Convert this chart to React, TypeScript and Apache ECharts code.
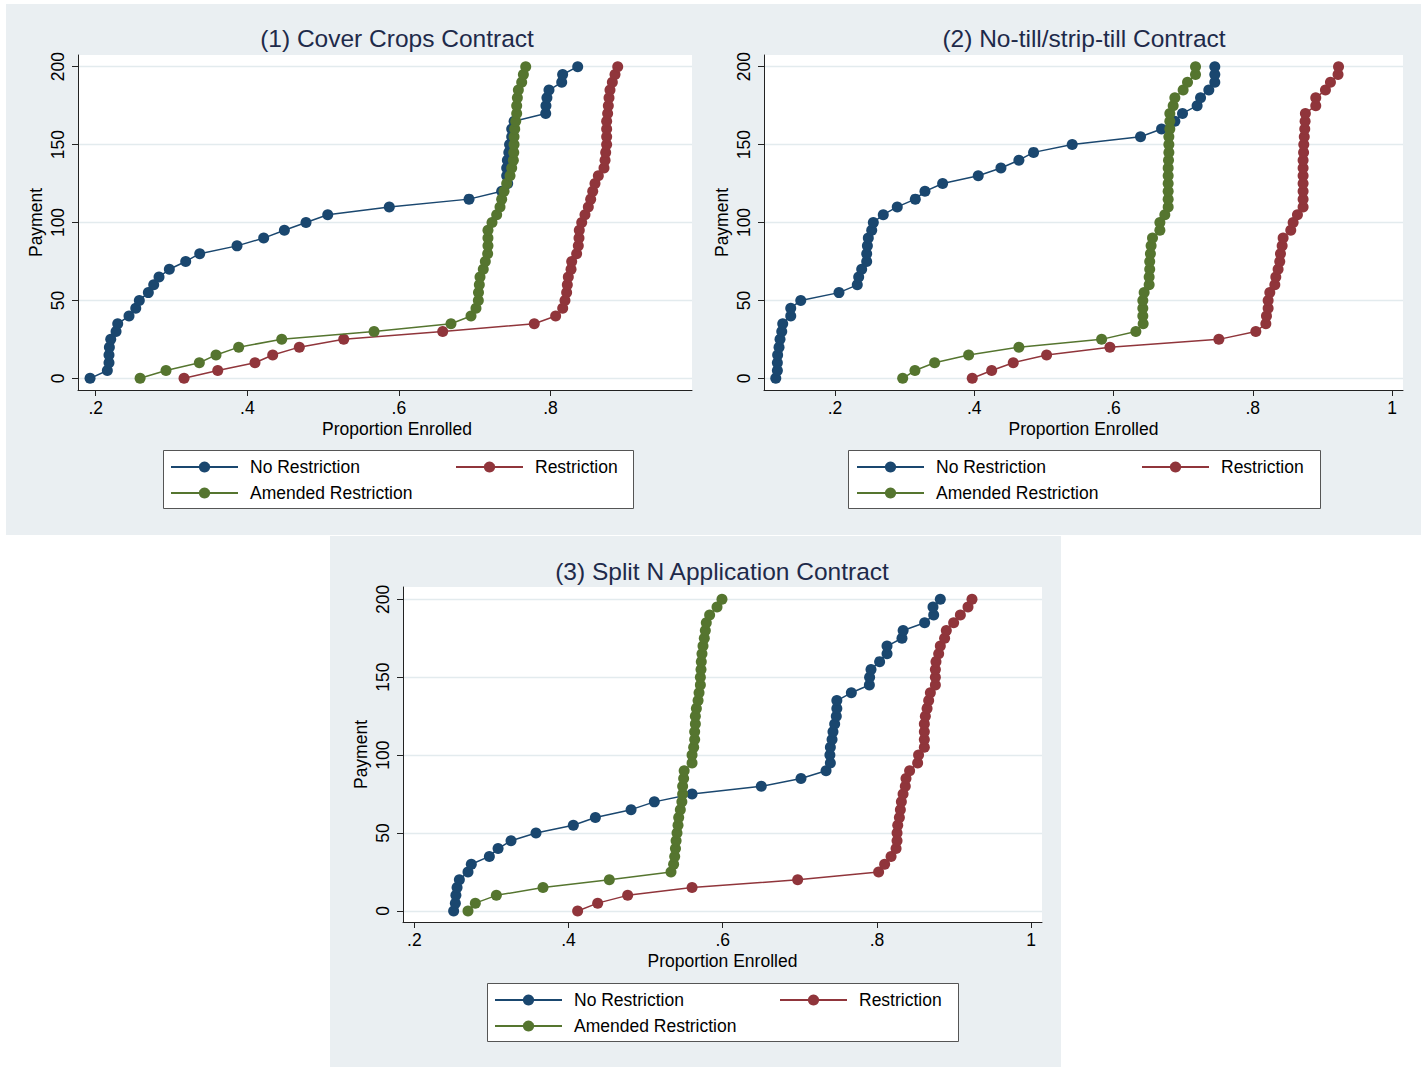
import React, { useEffect, useRef } from "react";
import * as echarts from "echarts";

// Payment levels (y values shared by every series)
const payments = [0, 5, 10, 15, 20, 25, 30, 35, 40, 45, 50, 55, 60, 65, 70, 75, 80, 85, 90, 95, 100,
  105, 110, 115, 120, 125, 130, 135, 140, 145, 150, 155, 160, 165, 170, 175, 180, 185, 190, 195, 200];

const seriesNames = ["No Restriction", "Restriction", "Amended Restriction"];
const panelTitles = ["(1) Cover Crops Contract", "(2) No-till/strip-till Contract", "(3) Split N Application Contract"];
const xAxisTitle = "Proportion Enrolled";
const yAxisTitle = "Payment";

// Panel 1: Cover Crops (proportion enrolled at each payment level)
const p1NoRestriction = [0.1925, 0.2153, 0.2175, 0.2175, 0.218, 0.2198, 0.2268, 0.229, 0.2439, 0.2528, 0.2575,
  0.2694, 0.2765, 0.2835, 0.2971, 0.3187, 0.3372, 0.3864, 0.4216, 0.4489, 0.4774, 0.5061, 0.5873, 0.6925,
  0.7356, 0.7435, 0.7422, 0.7422, 0.7431, 0.745, 0.746, 0.7488, 0.7488, 0.752, 0.7937, 0.794, 0.7953, 0.798,
  0.8148, 0.816, 0.8359];
const p1Restriction = [0.3165, 0.361, 0.4101, 0.4335, 0.4686, 0.5272, 0.6578, 0.7786, 0.8068, 0.8161, 0.8191,
  0.8213, 0.8222, 0.8235, 0.8271, 0.828, 0.8345, 0.8367, 0.8376, 0.838, 0.8412, 0.8455, 0.8499, 0.853, 0.8557,
  0.8587, 0.8631, 0.8706, 0.872, 0.8728, 0.8741, 0.8741, 0.8741, 0.8741, 0.8754, 0.8763, 0.8772, 0.8785,
  0.8816, 0.8851, 0.8887];
const p1Amended = [0.2585, 0.2927, 0.3367, 0.3587, 0.3886, 0.4454, 0.5672, 0.6687, 0.6951, 0.7017, 0.7048,
  0.705, 0.7061, 0.707, 0.7113, 0.714, 0.7171, 0.7175, 0.7175, 0.7175, 0.7228, 0.729, 0.7334, 0.7356, 0.7387,
  0.7422, 0.7466, 0.7488, 0.751, 0.7515, 0.7519, 0.7519, 0.7528, 0.7541, 0.7554, 0.7554, 0.7563, 0.7576,
  0.762, 0.7642, 0.7673];

// Panel 2: No-till/strip-till
const p2NoRestriction = [0.1149, 0.1172, 0.1172, 0.1176, 0.1196, 0.121, 0.1235, 0.1249, 0.1364, 0.1364, 0.1508,
  0.2057, 0.232, 0.234, 0.2383, 0.2455, 0.2455, 0.2465, 0.2478, 0.2527, 0.255, 0.2693, 0.2894, 0.3153, 0.3292,
  0.3546, 0.4057, 0.4383, 0.4641, 0.4852, 0.5407, 0.6388, 0.669, 0.6881, 0.6991, 0.7201, 0.725, 0.7369,
  0.7455, 0.7455, 0.7455];
const p2Restriction = [0.3971, 0.425, 0.456, 0.5039, 0.5948, 0.7513, 0.8044, 0.8188, 0.8197, 0.8221, 0.8221,
  0.8245, 0.8317, 0.8331, 0.8364, 0.8388, 0.8398, 0.8422, 0.8436, 0.8546, 0.858, 0.8642, 0.8723, 0.8723,
  0.8723, 0.8723, 0.8723, 0.8723, 0.8723, 0.873, 0.8733, 0.874, 0.8747, 0.8752, 0.8756, 0.8905, 0.8905, 0.9044,
  0.9116, 0.9225, 0.9232];
const p2Amended = [0.2972, 0.3148, 0.3431, 0.3919, 0.4641, 0.5829, 0.6321, 0.6426, 0.6421, 0.6421, 0.6421,
  0.644, 0.6512, 0.6512, 0.652, 0.652, 0.653, 0.654, 0.656, 0.6666, 0.6666, 0.6737, 0.6785, 0.6785, 0.6785,
  0.6785, 0.6785, 0.6785, 0.679, 0.6795, 0.6795, 0.6795, 0.6809, 0.6809, 0.6809, 0.6857, 0.6881, 0.7, 0.7063,
  0.7178, 0.7178];

// Panel 3: Split N Application
const p3NoRestriction = [0.251, 0.2532, 0.2539, 0.2554, 0.2584, 0.2696, 0.2739, 0.2973, 0.3086, 0.3254, 0.3578,
  0.4062, 0.4348, 0.4811, 0.5113, 0.5602, 0.65, 0.7015, 0.734, 0.7396, 0.739, 0.7396, 0.7418, 0.743, 0.7452,
  0.7473, 0.748, 0.748, 0.7668, 0.7902, 0.7905, 0.7923, 0.8035, 0.8131, 0.8131, 0.8325, 0.834, 0.8619, 0.8736,
  0.8727, 0.8822];
const p3Restriction = [0.4118, 0.4378, 0.4767, 0.5602, 0.6972, 0.8022, 0.81, 0.8183, 0.8248, 0.8261, 0.8261,
  0.827, 0.8291, 0.8304, 0.8317, 0.8339, 0.8368, 0.8377, 0.8424, 0.8528, 0.854, 0.8615, 0.8615, 0.8615, 0.8615,
  0.8628, 0.865, 0.8671, 0.8693, 0.8758, 0.8758, 0.8758, 0.8766, 0.8801, 0.8822, 0.8878, 0.89, 0.8995, 0.9082,
  0.9181, 0.9233];
const p3Amended = [0.2696, 0.2791, 0.3064, 0.3669, 0.4529, 0.5329, 0.5363, 0.5377, 0.5387, 0.5395, 0.5407,
  0.542, 0.5429, 0.545, 0.547, 0.548, 0.548, 0.5493, 0.55, 0.5602, 0.5602, 0.5623, 0.5636, 0.5636, 0.5645,
  0.5645, 0.5658, 0.568, 0.5693, 0.571, 0.571, 0.5718, 0.5722, 0.5731, 0.5744, 0.5761, 0.5774, 0.5787, 0.583,
  0.5926, 0.599];

const panelData = [
  [p1NoRestriction, p1Restriction, p1Amended],
  [p2NoRestriction, p2Restriction, p2Amended],
  [p3NoRestriction, p3Restriction, p3Amended],
];

// Tick labels
const xTicksPanel1 = [0.2, 0.4, 0.6, 0.8];
const xTicksPanel23 = [0.2, 0.4, 0.6, 0.8, 1];
const yTicks = [0, 50, 100, 150, 200];

// Layout / style (not data)
const COLORS = ["#1a476f", "#90353b", "#55752f"];
const BG = "#eaeff2";
const FONT = "'Liberation Sans', Arial, Helvetica, sans-serif";
const panels = [
  { left: 78, top: 55, width: 614, height: 335, xMin: 0.1766, xMax: 0.9867, yMin: -7.5, yMax: 207.5,
    xTicks: xTicksPanel1, titleX: 397, titleY: 24, nameShift: 12,
    legend: { x: 163, y: 450, w: 470, h: 58, col1: 170, col2: 455, row1: 467, row2: 493 } },
  { left: 764, top: 55, width: 639, height: 335, xMin: 0.098, xMax: 1.0158, yMin: -7.5, yMax: 207.5,
    xTicks: xTicksPanel23, titleX: 1084, titleY: 24, nameShift: 0,
    legend: { x: 848, y: 450, w: 472, h: 58, col1: 856, col2: 1141, row1: 467, row2: 493 } },
  { left: 403, top: 587, width: 639, height: 335, xMin: 0.1853, xMax: 1.0141, yMin: -7.1, yMax: 207.9,
    xTicks: xTicksPanel23, titleX: 722, titleY: 557, nameShift: 0,
    legend: { x: 487, y: 983, w: 471, h: 58, col1: 494, col2: 779, row1: 1000, row2: 1026 } },
];

const fmtX = (v: number) => (v === 1 ? "1" : String(Number(v.toFixed(1))).replace(/^0/, ""));

export default function App() {
  const ref = useRef<HTMLDivElement>(null);
  useEffect(() => {
    if (!ref.current) return;
    const chart = echarts.init(ref.current, undefined, { renderer: "svg" });

    const grid: any[] = [];
    const xAxis: any[] = [];
    const yAxis: any[] = [];
    const series: any[] = [];
    const legend: any[] = [];
    const title: any[] = [];
    const graphic: any[] = [
      { type: "rect", shape: { x: 6, y: 4, width: 1415, height: 531 }, style: { fill: BG }, z: -100, silent: true },
      { type: "rect", shape: { x: 330, y: 536, width: 731, height: 531 }, style: { fill: BG }, z: -100, silent: true },
    ];

    panels.forEach((p, i) => {
      grid.push({ left: p.left, top: p.top, width: p.width, height: p.height, show: true,
        backgroundColor: "#ffffff", borderWidth: 0, containLabel: false });
      xAxis.push({
        type: "value", gridIndex: i, min: p.xMin, max: p.xMax,
        name: xAxisTitle, nameLocation: "middle", nameGap: 30,
        nameTextStyle: { fontFamily: FONT, fontSize: 17.5, color: "#000",
          padding: p.nameShift ? [0, 0, 0, p.nameShift * 2] : 0 },
        axisLine: { show: true, onZero: false, lineStyle: { color: "#222", width: 1 } },
        axisTick: { show: true, length: 6, customValues: p.xTicks, lineStyle: { color: "#222", width: 1 } },
        axisLabel: { customValues: p.xTicks, formatter: fmtX, fontFamily: FONT, fontSize: 17.5, color: "#000", margin: 9 },
        splitLine: { show: false },
      });
      yAxis.push({
        type: "value", gridIndex: i, min: p.yMin, max: p.yMax,
        name: yAxisTitle, nameLocation: "middle", nameGap: 33, nameRotate: 90,
        nameTextStyle: { fontFamily: FONT, fontSize: 17.5, color: "#000" },
        axisLine: { show: true, onZero: false, lineStyle: { color: "#222", width: 1 } },
        axisTick: { show: true, length: 6, customValues: yTicks, lineStyle: { color: "#222", width: 1 } },
        axisLabel: { customValues: yTicks, rotate: 90, fontFamily: FONT, fontSize: 17.5, color: "#000", margin: 11 },
        splitLine: { show: true, lineStyle: { color: "#e3ebee", width: 1.3 } },
      });
      panelData[i].forEach((vals, s) => {
        series.push({
          type: "line", name: seriesNames[s], xAxisIndex: i, yAxisIndex: i,
          data: vals.map((v, k) => [v, payments[k]]),
          symbol: "circle", symbolSize: 11, showSymbol: true,
          lineStyle: { color: COLORS[s], width: 1.5 },
          itemStyle: { color: COLORS[s] },
          z: 2 + s,
        });
      });
      title.push({ text: panelTitles[i], left: p.titleX, top: p.titleY, textAlign: "center", padding: 0,
        textStyle: { fontFamily: FONT, fontSize: 24.5, fontWeight: "normal", color: "#1e2a4a", lineHeight: 28 } });
      const L = p.legend;
      graphic.push({ type: "rect", shape: { x: L.x + 0.5, y: L.y + 0.5, width: L.w, height: L.h },
        style: { fill: "#ffffff", stroke: "#555", lineWidth: 1 }, z: -50, silent: true });
      const items = [
        { name: seriesNames[0], x: L.col1, y: L.row1 },
        { name: seriesNames[1], x: L.col2, y: L.row1 },
        { name: seriesNames[2], x: L.col1, y: L.row2 },
      ];
      items.forEach((it) => {
        legend.push({
          data: [it.name], left: it.x, top: it.y - 10, padding: 0, orient: "horizontal",
          itemWidth: 67, itemHeight: 14, selectedMode: false,
          textStyle: { fontFamily: FONT, fontSize: 17.5, color: "#000", lineHeight: 20, padding: [0, 0, 0, 7] },
        });
      });
    });

    chart.setOption({
      animation: false,
      backgroundColor: "#ffffff",
      title, grid, xAxis, yAxis, series, legend, graphic,
    });
    return () => chart.dispose();
  }, []);
  return <div ref={ref} style={{ position: "fixed", left: 0, top: 0, width: 1421, height: 1067 }} />;
}
